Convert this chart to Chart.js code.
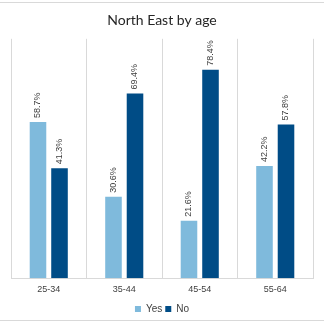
<!DOCTYPE html>
<html>
<head>
<meta charset="utf-8">
<script src="https://cdn.jsdelivr.net/npm/chart.js@4"></script>
<style>
  html, body { margin: 0; padding: 0; background: #fff; }
  #wrap { width: 324px; height: 324px; position: relative; }
</style>
</head>
<body>
<div id="wrap"><canvas id="chart" width="324" height="324"></canvas></div>
<script>
const ageGroups = ['25-34', '35-44', '45-54', '55-64'];
const yesValues = [58.7, 30.6, 21.6, 42.2];
const noValues = [41.3, 69.4, 78.4, 57.8];

// percentage label written vertically above each bar
const barLabels = {
  id: 'barLabels',
  afterDatasetsDraw(chart) {
    const ctx = chart.ctx;
    ctx.save();
    ctx.font = '9px "Liberation Sans", Arial, sans-serif';
    ctx.fillStyle = '#404040';
    ctx.textAlign = 'left';
    ctx.textBaseline = 'middle';
    chart.data.datasets.forEach((ds, i) => {
      chart.getDatasetMeta(i).data.forEach((bar, j) => {
        ctx.save();
        ctx.translate(bar.x, bar.y - 4);
        ctx.rotate(-Math.PI / 2);
        ctx.fillText(ds.data[j].toFixed(1) + '%', 0, 0);
        ctx.restore();
      });
    });
    ctx.restore();
  }
};

// thin frame lines at top and bottom of the chart box
const frame = {
  id: 'frame',
  beforeDraw(chart) {
    const ctx = chart.ctx;
    ctx.save();
    ctx.fillStyle = '#fff';
    ctx.fillRect(0, 0, chart.width, chart.height);
    ctx.strokeStyle = '#d9d9d9';
    ctx.lineWidth = 1;
    ctx.beginPath();
    ctx.moveTo(0, 2.5); ctx.lineTo(chart.width, 2.5);
    ctx.moveTo(0, 320.5); ctx.lineTo(chart.width, 320.5);
    ctx.stroke();
    ctx.restore();
  }
};

new Chart(document.getElementById('chart'), {
  type: 'bar',
  data: {
    labels: ageGroups,
    datasets: [{
      label: 'Yes',
      data: yesValues,
      backgroundColor: '#7fbadc'
    }, {
      label: 'No',
      data: noValues,
      backgroundColor: '#004c86'
    }]
  },
  options: {
    responsive: false,
    animation: false,
    devicePixelRatio: 1,
    categoryPercentage: 0.57,
    barPercentage: 0.77,
    layout: { padding: { left: 11, right: 11, top: 0, bottom: 0 } },
    plugins: {
      title: {
        display: true,
        text: 'North East by age',
        color: '#262626',
        font: { family: 'Lato', size: 14, weight: 'normal' },
        padding: { top: 12, bottom: 10 }
      },
      legend: {
        position: 'bottom',
        labels: {
          boxWidth: 6,
          boxHeight: 6,
          padding: 3,
          color: '#404040',
          font: { family: '"Liberation Sans", Arial', size: 10 }
        }
      },
      tooltip: { enabled: false }
    },
    scales: {
      x: {
        grid: { offset: true, color: '#d9d9d9', drawTicks: false },
        border: { color: '#d9d9d9' },
        ticks: {
          color: '#404040',
          padding: 6,
          font: { family: '"Liberation Sans", Arial', size: 9 }
        }
      },
      y: {
        display: false,
        min: 0,
        max: 90
      }
    }
  },
  plugins: [frame, barLabels]
});
</script>
</body>
</html>
